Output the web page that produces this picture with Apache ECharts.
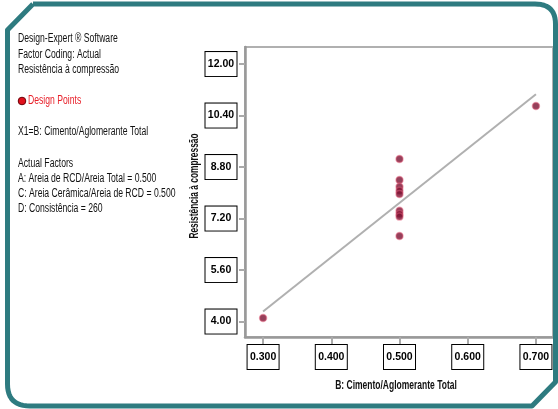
<!DOCTYPE html>
<html><head><meta charset="utf-8">
<script src="https://cdn.jsdelivr.net/npm/echarts@6/dist/echarts.min.js"></script>
<style>html,body{margin:0;padding:0;background:#fff}#c{width:558px;height:409px}</style>
</head><body><div id="c"></div>
<script>
const xPoints = [0.3, 0.5, 0.5, 0.5, 0.5, 0.5, 0.5, 0.5, 0.5, 0.5, 0.7];
const yPoints = [4.11, 9.05, 8.40, 8.19, 8.06, 7.96, 7.44, 7.34, 7.26, 6.66, 10.70];
const lineX = [0.3, 0.7];
const lineY = [4.31, 11.06];
const xTicks = [0.3, 0.4, 0.5, 0.6, 0.7];
const yTicks = [4.00, 5.60, 7.20, 8.80, 10.40, 12.00];
const infoLines = [
  'Design-Expert ® Software',
  'Factor Coding: Actual',
  'Resistência à compressão'
];
const legendLabel = 'Design Points';
const factorLine = 'X1=B: Cimento/Aglomerante Total';
const actualLines = [
  'Actual Factors',
  'A: Areia de RCD/Areia Total = 0.500',
  'C: Areia Cerâmica/Areia de RCD = 0.500',
  'D: Consistência = 260'
];
const xName = 'B: Cimento/Aglomerante Total';
const yName = 'Resistência à compressão';

const FONT = '"Liberation Sans Narrow","Arial Narrow","Liberation Sans",sans-serif';
const chart = echarts.init(document.getElementById('c'));

const gtext = (txt, x, y, color) => ({
  type: 'text', x: x, y: y, scaleX: 0.69,
  style: { text: txt, fill: color || '#111', font: '12.5px ' + FONT, verticalAlign: 'middle' }
});
const graphics = [];
infoLines.forEach((t, i) => graphics.push(gtext(t, 18, 39 + i * 15.5)));
graphics.push({ type: 'circle', shape: { cx: 22, cy: 101, r: 3.8 }, style: { fill: '#e0101c', stroke: '#6a0008', lineWidth: 1 } });
graphics.push(gtext(legendLabel, 28, 101, '#e8202a'));
graphics.push(gtext(factorLine, 18, 132));
actualLines.forEach((t, i) => graphics.push(gtext(t, 18, 164 + i * 15)));

// axis names (narrow bold)
graphics.push({
  type: 'text', x: 396, y: 386, scaleX: 0.68,
  style: { text: xName, fill: '#111', font: 'bold 12.5px ' + FONT, align: 'center', verticalAlign: 'middle' }
});
graphics.push({
  type: 'text', x: 195, y: 186, scaleX: 0.67, rotation: Math.PI / 2,
  style: { text: yName, fill: '#111', font: 'bold 12.5px ' + FONT, align: 'center', verticalAlign: 'middle' }
});

// frame outline
function quad(p0, c, p1, n) {
  const pts = [];
  for (let i = 0; i <= n; i++) {
    const t = i / n;
    pts.push([(1-t)*(1-t)*p0[0] + 2*(1-t)*t*c[0] + t*t*p1[0], (1-t)*(1-t)*p0[1] + 2*(1-t)*t*c[1] + t*t*p1[1]]);
  }
  return pts;
}
const framePts = [[33, 4], [535, 4]]
  .concat(quad([535, 4], [555.5, 4], [555.5, 24], 12))
  .concat([[555.5, 382], [532, 406], [30, 406]])
  .concat(quad([30, 406], [7.5, 406], [7.5, 384], 12))
  .concat([[7.5, 30], [33, 4]]);
graphics.push({
  type: 'polyline', silent: true, z: 100,
  shape: { points: framePts },
  style: { fill: null, stroke: '#2e7b80', lineWidth: 5, lineJoin: 'round' }
});

const labelBox = {
  color: '#000', fontWeight: 'bold', fontSize: 10.5, fontFamily: FONT,
  backgroundColor: '#fff', borderColor: '#000', borderWidth: 1,
  width: 25, align: 'center', padding: [5, 3], lineHeight: 14
};

chart.setOption({
  animation: false,
  backgroundColor: '#fff',
  grid: { left: 245, top: 47, right: 5, bottom: 72, show: true, borderColor: '#b0b0b0', borderWidth: 2, backgroundColor: '#fff' },
  xAxis: {
    type: 'value', min: 0.2735, max: 0.725,
    axisLine: { show: true, lineStyle: { color: '#999', width: 2.5 } },
    axisTick: { show: true, length: 7, lineStyle: { color: '#aaa', width: 2 }, customValues: xTicks },
    axisLabel: Object.assign({}, labelBox, { margin: 8, customValues: xTicks, formatter: v => v.toFixed(3) }),
    splitLine: { show: false }
  },
  yAxis: {
    type: 'value', min: 3.52, max: 12.53,
    axisLine: { show: true, lineStyle: { color: '#999', width: 2.5 } },
    axisTick: { show: true, length: 6, lineStyle: { color: '#aaa', width: 2 }, customValues: yTicks },
    axisLabel: Object.assign({}, labelBox, { margin: 24, customValues: yTicks, formatter: v => v.toFixed(2) }),
    splitLine: { show: false }
  },
  series: [
    {
      type: 'line', data: lineX.map((x, i) => [x, lineY[i]]), symbol: 'none',
      lineStyle: { color: '#b0b0b0', width: 2 }, z: 2
    },
    {
      type: 'scatter', data: xPoints.map((x, i) => [x, yPoints[i]]), symbolSize: 7,
      itemStyle: { color: '#7a1232', borderColor: 'rgba(225,90,120,0.6)', borderWidth: 1.5 }, z: 3
    }
  ],
  graphic: graphics
});
</script></body></html>
